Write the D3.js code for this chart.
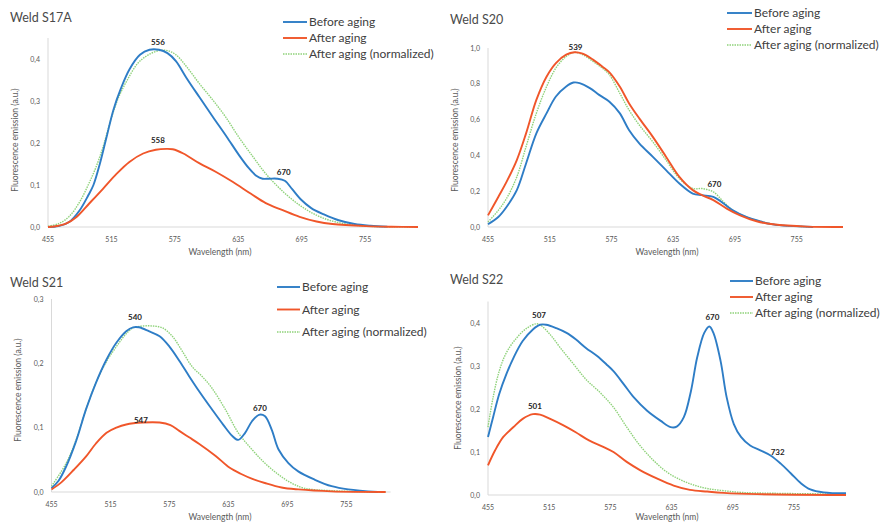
<!DOCTYPE html>
<html><head><meta charset="utf-8">
<script src="https://cdn.jsdelivr.net/npm/d3@7"></script>
<style>
html,body{margin:0;padding:0;background:#fff;}
svg{display:block;font-family:Lato, "Open Sans", sans-serif;}
</style></head>
<body><svg id="c" width="883" height="523"></svg>
<script>
// ---------- data ----------
const seriesNames = ["Before aging", "After aging", "After aging (normalized)"];
const xTicks = [455, 515, 575, 635, 695, 755];
const yTicksS17A = [0, 0.1, 0.2, 0.3, 0.4];
const yTicksS20 = [0, 0.2, 0.4, 0.6, 0.8, 1.0];
const yTicksS21 = [0, 0.1, 0.2, 0.3];
const yTicksS22 = [0, 0.1, 0.2, 0.3, 0.4];

const s17aBefore = [[455,0],[465,0.002],[475,0.012],[485,0.04],[493,0.075],[498,0.1],[504,0.15],[510,0.21],[517,0.28],[524,0.33],[532,0.375],[542,0.41],[551,0.422],[560,0.422],[568,0.414],[576,0.395],[586,0.355],[598,0.31],[611,0.262],[624,0.215],[636,0.17],[645,0.14],[652,0.122],[658,0.115],[664,0.115],[672,0.115],[679,0.11],[686,0.09],[694,0.066],[704,0.045],[716,0.03],[730,0.016],[745,0.007],[760,0.003],[776,0.001]];
const s17aAfter = [[455,0],[465,0.003],[472,0.008],[482,0.024],[494,0.056],[507,0.091],[520,0.127],[532,0.155],[545,0.175],[557,0.184],[567,0.186],[573,0.185],[583,0.175],[598,0.152],[614,0.131],[630,0.107],[647,0.079],[661,0.057],[677,0.04],[693,0.024],[709,0.013],[724,0.007],[756,0.002],[780,0.0005],[805,0]];
const s17aNorm = [[455,0.002],[465,0.008],[475,0.025],[485,0.06],[493,0.1],[500,0.14],[507,0.19],[515,0.26],[522,0.31],[530,0.35],[540,0.39],[550,0.41],[560,0.42],[568,0.42],[576,0.41],[586,0.382],[598,0.342],[611,0.302],[623,0.262],[636,0.212],[649,0.167],[661,0.127],[677,0.085],[693,0.052],[709,0.028],[724,0.014],[740,0.006],[756,0.002],[780,0.0005],[805,0]];

const s20Before = [[455,0.015],[465,0.056],[473,0.112],[483,0.206],[492,0.355],[502,0.523],[512,0.636],[521,0.729],[531,0.785],[538,0.807],[544,0.804],[554,0.776],[563,0.738],[573,0.70],[583,0.636],[592,0.542],[602,0.467],[615,0.393],[628,0.318],[641,0.243],[654,0.187],[663,0.178],[674,0.168],[684,0.131],[693,0.093],[706,0.056],[719,0.032],[732,0.015],[748,0.006],[771,0]];
const s20After = [[455,0.065],[465,0.168],[473,0.252],[483,0.374],[492,0.523],[502,0.71],[512,0.841],[521,0.916],[531,0.963],[539,0.976],[547,0.968],[557,0.935],[566,0.897],[573,0.864],[583,0.785],[592,0.692],[602,0.607],[615,0.505],[628,0.393],[641,0.28],[654,0.206],[663,0.178],[674,0.15],[687,0.103],[700,0.065],[716,0.032],[732,0.015],[765,0.002],[800,0]];
const s20Norm = [[455,0.028],[465,0.093],[473,0.159],[483,0.28],[492,0.449],[502,0.636],[512,0.785],[521,0.888],[531,0.953],[539,0.976],[547,0.963],[557,0.925],[566,0.888],[573,0.85],[583,0.748],[592,0.654],[602,0.57],[615,0.477],[628,0.374],[641,0.271],[654,0.215],[663,0.215],[674,0.196],[684,0.14],[693,0.093],[706,0.056],[722,0.028],[738,0.011],[771,0]];

const s21Before = [[455,0.006],[462,0.017],[470,0.04],[480,0.079],[490,0.128],[500,0.169],[511,0.206],[521,0.232],[531,0.25],[538,0.256],[544,0.256],[554,0.25],[565,0.242],[575,0.226],[585,0.204],[595,0.18],[605,0.157],[618,0.129],[630,0.104],[639,0.087],[645,0.081],[652,0.092],[659,0.11],[666,0.12],[672,0.118],[679,0.097],[686,0.066],[696,0.045],[706,0.032],[723,0.019],[740,0.009],[757,0.004],[787,0]];
const s21After = [[455,0.004],[465,0.015],[478,0.035],[490,0.055],[500,0.075],[511,0.092],[521,0.1],[531,0.105],[548,0.108],[565,0.108],[576,0.104],[585,0.095],[595,0.085],[605,0.075],[622,0.056],[636,0.038],[648,0.028],[660,0.02],[672,0.014],[689,0.007],[706,0.004],[740,0.001],[795,0]];
const s21Norm = [[455,0.009],[470,0.045],[480,0.081],[490,0.128],[500,0.169],[511,0.203],[521,0.226],[531,0.246],[538,0.255],[548,0.258],[558,0.258],[568,0.255],[578,0.242],[588,0.219],[598,0.195],[608,0.18],[618,0.162],[632,0.128],[645,0.092],[659,0.066],[672,0.045],[686,0.027],[699,0.014],[712,0.006],[740,0.002],[795,0]];

const s22Before = [[455,0.135],[460,0.181],[466,0.235],[473,0.281],[480,0.319],[489,0.358],[499,0.385],[506,0.396],[512,0.396],[522,0.388],[532,0.377],[541,0.362],[551,0.342],[562,0.323],[571,0.304],[578,0.288],[588,0.258],[598,0.227],[611,0.196],[624,0.173],[634,0.158],[640,0.159],[647,0.181],[654,0.242],[660,0.319],[667,0.377],[672,0.392],[676,0.377],[683,0.312],[689,0.227],[696,0.165],[703,0.135],[712,0.115],[722,0.104],[732,0.092],[742,0.073],[752,0.05],[762,0.027],[771,0.013],[784,0.006],[806,0.004]];
const s22After = [[455,0.069],[462,0.104],[470,0.135],[480,0.158],[489,0.177],[499,0.188],[506,0.187],[516,0.177],[529,0.162],[541,0.146],[554,0.127],[568,0.112],[578,0.1],[591,0.077],[604,0.058],[621,0.038],[637,0.022],[653,0.012],[670,0.008],[686,0.005],[719,0.002],[806,0]];
const s22Norm = [[455,0.158],[460,0.227],[466,0.288],[473,0.331],[483,0.365],[493,0.388],[502,0.398],[506,0.396],[516,0.373],[526,0.342],[539,0.304],[551,0.269],[565,0.238],[578,0.204],[591,0.158],[604,0.115],[617,0.081],[630,0.054],[644,0.035],[657,0.023],[670,0.015],[686,0.01],[703,0.006],[735,0.004],[806,0.002]];

// peak annotations: [text, wavelength anchor, value anchor]
const peaksS17A = [["556",559,0.434],["558",559,0.2],["670",678,0.125]];
const peaksS20 = [["539",540,0.988],["670",675,0.225]];
const peaksS21 = [["540",540,0.268],["547",546,0.108],["670",667,0.126]];
const peaksS22 = [["507",505,0.412],["501",501,0.2],["670",675,0.408],["732",739,0.092]];

// ---------- layout ----------
const colors = ["#2e7dc6", "#f0562a", "#8fd27a"];
const panels = [
  {title:"Weld S17A", series:[s17aBefore,s17aAfter,s17aNorm], yTicks:yTicksS17A, peaks:peaksS17A,
   xr:[48,418], xd:[455,805], yd:[0,0.45], yr:[227,38], titlePos:[10,22], legend:[283,307,22,16],
   yTitle:[15,140], xTitle:[220,255]},
  {title:"Weld S20", series:[s20Before,s20After,s20Norm], yTicks:yTicksS20, peaks:peaksS20,
   xr:[488,843], xd:[455,800], yd:[0,1.0], yr:[227,48], titlePos:[450,24], legend:[727,752,13,16],
   yTitle:[455,140], xTitle:[667,255]},
  {title:"Weld S21", series:[s21Before,s21After,s21Norm], yTicks:yTicksS21, peaks:peaksS21,
   xr:[51.5,390.6], xd:[455,800], yd:[0,0.3], yr:[492,299], titlePos:[10,287], legend:[277,300,287,22.5],
   yTitle:[18,390], xTitle:[220,520]},
  {title:"Weld S22", series:[s22Before,s22After,s22Norm], yTicks:yTicksS22, peaks:peaksS22,
   xr:[488,845], xd:[455,805], yd:[0,0.45], yr:[495,301.5], titlePos:[450,284], legend:[730,753,281,16],
   yTitle:[458,398], xTitle:[667,520]}
];

const svg = d3.select("#c");
const fmt = v => d3.format(".1f")(v).replace(".", ",");

panels.forEach(p => {
  const g = svg.append("g");
  const x = d3.scaleLinear().domain(p.xd).range(p.xr);
  const y = d3.scaleLinear().domain(p.yd).range(p.yr);

  // axes lines
  g.append("line").attr("x1", p.xr[0]).attr("x2", p.xr[0]).attr("y1", p.yr[0]).attr("y2", p.yr[1])
    .attr("stroke", "#d9d9d9").attr("stroke-width", 1);
  g.append("line").attr("x1", p.xr[0]).attr("x2", p.xr[1]).attr("y1", p.yr[0]).attr("y2", p.yr[0])
    .attr("stroke", "#d9d9d9").attr("stroke-width", 1);

  // y tick labels
  g.selectAll(".yt").data(p.yTicks).enter().append("text")
    .attr("x", p.xr[0] - 8).attr("y", d => y(d) + 2.5)
    .attr("text-anchor", "end").attr("font-size", 7).attr("fill", "#595959").text(fmt);
  // x tick labels
  g.selectAll(".xt").data(xTicks).enter().append("text")
    .attr("x", d => x(d)).attr("y", p.yr[0] + 15)
    .attr("text-anchor", "middle").attr("font-size", 7).attr("fill", "#595959").text(d => d);

  // axis titles
  g.append("text").attr("transform", `translate(${p.yTitle[0]},${p.yTitle[1]}) rotate(-90)`)
    .attr("text-anchor", "middle").attr("dy", "0.35em").attr("font-size", 8.5).attr("fill", "#595959")
    .text("Fluorescence emission (a.u.)");
  g.append("text").attr("x", p.xTitle[0]).attr("y", p.xTitle[1])
    .attr("text-anchor", "middle").attr("font-size", 8.5).attr("fill", "#595959").text("Wavelength (nm)");

  // title
  g.append("text").attr("x", p.titlePos[0]).attr("y", p.titlePos[1])
    .attr("font-size", 12.5).attr("fill", "#4a4a4a").text(p.title);

  // lines
  const line = d3.line().x(d => x(d[0])).y(d => y(d[1])).curve(d3.curveCatmullRom.alpha(0.5));
  const order = [2, 0, 1];
  order.forEach(i => {
    g.append("path").datum(p.series[i]).attr("d", line).attr("fill", "none")
      .attr("stroke", colors[i]).attr("stroke-width", i === 2 ? 1.4 : 1.9)
      .attr("stroke-dasharray", i === 2 ? "1.5,1" : null)
      .attr("stroke-linejoin", "round");
  });

  // peak labels
  g.selectAll(".pk").data(p.peaks).enter().append("text")
    .attr("x", d => x(d[1])).attr("y", d => y(d[2]))
    .attr("text-anchor", "middle").attr("font-size", 8).attr("font-weight", "bold").attr("fill", "#262626")
    .text(d => d[0]);

  // legend
  const [lx0, lx1, ly0, ldy] = p.legend;
  seriesNames.forEach((n, i) => {
    const yy = ly0 + i * ldy;
    g.append("line").attr("x1", lx0).attr("x2", lx1).attr("y1", yy).attr("y2", yy)
      .attr("stroke", colors[i]).attr("stroke-width", i === 2 ? 1.4 : 1.9)
      .attr("stroke-dasharray", i === 2 ? "1.5,1" : null);
    g.append("text").attr("x", lx1 + 2).attr("y", yy + 4).attr("font-size", 12).attr("fill", "#404040").text(n);
  });
});
</script></body></html>
